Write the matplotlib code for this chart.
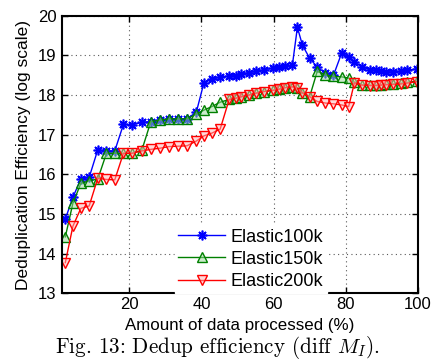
import matplotlib
matplotlib.use("Agg")
import matplotlib.pyplot as plt

x = [2.3, 4.4, 6.6, 8.9, 11.3, 13.7, 16.0, 18.4, 20.8, 23.5, 26.0, 28.6, 31.0, 33.6,
     36.0, 38.6, 40.7, 42.9, 45.2, 47.7, 49.5, 51.1, 53.1, 55.2, 57.3, 59.8, 61.5,
     63.3, 65.2, 66.6, 68.0, 70.0, 72.1, 74.3, 76.6, 78.9, 80.8, 82.4, 84.5, 86.8,
     88.4, 89.8, 91.2, 93.2, 95.3, 96.9, 99.8]

elastic100k = [14.87, 15.42, 15.88, 15.92, 16.62, 16.59, 16.59, 17.26, 17.25, 17.31,
               17.33, 17.37, 17.40, 17.40, 17.40, 17.57, 18.31, 18.40, 18.46, 18.48,
               18.49, 18.53, 18.57, 18.60, 18.64, 18.68, 18.70, 18.73, 18.75, 19.71,
               19.26, 18.93, 18.71, 18.56, 18.50, 19.07, 18.95, 18.83, 18.72, 18.63,
               18.63, 18.61, 18.59, 18.58, 18.61, 18.63, 18.66]

elastic150k = [14.42, 15.27, 15.77, 15.84, 15.88, 16.53, 16.53, 16.53, 16.53, 16.61,
               17.33, 17.37, 17.40, 17.40, 17.40, 17.52, 17.62, 17.71, 17.82, 17.89,
               17.92, 17.96, 18.00, 18.05, 18.09, 18.12, 18.15, 18.19, 18.21, 18.18,
               18.06, 17.96, 18.60, 18.51, 18.47, 18.46, 18.43, 18.33, 18.26, 18.25,
               18.25, 18.26, 18.27, 18.28, 18.30, 18.32, 18.35]

elastic200k = [13.77, 14.69, 15.14, 15.20, 15.90, 15.87, 15.86, 16.53, 16.53, 16.59,
               16.63, 16.66, 16.70, 16.71, 16.72, 16.84, 16.97, 17.04, 17.14, 17.89,
               17.92, 17.96, 18.00, 18.05, 18.09, 18.12, 18.15, 18.19, 18.21, 18.18,
               18.06, 17.96, 17.84, 17.80, 17.78, 17.75, 17.71, 18.31, 18.25, 18.24,
               18.24, 18.25, 18.26, 18.27, 18.28, 18.30, 18.34]

series_names = ["Elastic100k", "Elastic150k", "Elastic200k"]
xticks = [20, 40, 60, 80, 100]
yticks = [13, 14, 15, 16, 17, 18, 19, 20]

plt.rcParams['font.family'] = ['Liberation Sans', 'DejaVu Sans']
plt.rcParams['mathtext.fontset'] = 'cm'

fig = plt.figure(figsize=(4.34, 3.61), dpi=100)
ax = fig.add_axes([0.143, 0.188, 0.820, 0.768])

ax.plot(x, elastic100k, color=(0, 0, 1), marker=(8, 2, 0), markersize=7, linewidth=1.0,
        markeredgewidth=1.2, markeredgecolor=(0, 0, 1), label=series_names[0])
ax.plot(x, elastic150k, color=(0, 0.5, 0), marker='^', markersize=6.5, linewidth=1.0,
        markerfacecolor=(0.6, 0.85, 0.6, 0.5), markeredgecolor=(0, 0.5, 0), label=series_names[1])
ax.plot(x, elastic200k, color=(1, 0, 0), marker='v', markersize=6.5, linewidth=1.0,
        markerfacecolor=(1, 0.7, 0.7, 0.5), markeredgecolor=(1, 0, 0), label=series_names[2])

ax.set_xlim(1.4, 100)
ax.set_ylim(13, 20)
ax.set_xticks(xticks)
ax.set_yticks(yticks)
ax.tick_params(direction='in', labelsize=12, length=4, width=1, top=True, right=True, pad=4)
ax.tick_params(axis='x', pad=3)
ax.grid(True, linestyle=(0, (1, 3)), color='0.35', linewidth=0.8)
for s in ax.spines.values():
    s.set_linewidth(1.5)

ax.set_xlabel("Amount of data processed (%)", fontsize=12.2, va='center')
ax.xaxis.set_label_coords(0.5, -0.117)
ax.set_ylabel("Deduplication Efficiency (log scale)", fontsize=12.5, labelpad=5)

leg = ax.legend(loc='center', bbox_to_anchor=(0.53, 0.122), fontsize=13,
                frameon=True, fancybox=False, edgecolor='white', framealpha=1,
                handlelength=2.6, handletextpad=0.3, labelspacing=0.28,
                borderpad=0.2)

fig.text(0.5, 0.037, r"Fig. 13: Dedup efficiency (diff $M_I$).", ha='center', va='center',
         fontsize=15.2, family='cmr10')

fig.savefig("out.png", dpi=100)
